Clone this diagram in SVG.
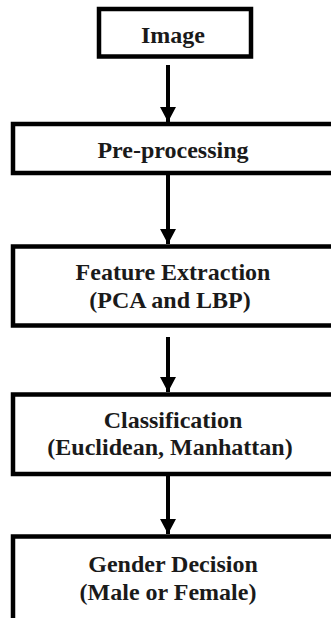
<svg xmlns="http://www.w3.org/2000/svg" width="331" height="618" viewBox="0 0 331 618">
<style>
.box{fill:#fff;stroke:#000;stroke-width:4.5}
.t{font-family:"Liberation Serif","Times New Roman",serif;font-weight:bold;font-size:24px;fill:#1a1a1a;text-anchor:middle}
.c{stroke:#000;stroke-width:4;fill:none}
</style>
<defs>
<marker id="ah" markerUnits="userSpaceOnUse" markerWidth="18" markerHeight="16" refX="15" refY="8" orient="auto">
<path d="M0,0 L15,8 L0,16 Z" fill="#000"/>
</marker>
</defs>
<rect width="331" height="618" fill="#fff"/>
<g id="n1"><rect class="box" x="99" y="9" width="152" height="47.5"/><text class="t" x="173" y="43">Image</text></g>
<g id="n2"><rect class="box" x="13" y="124" width="340" height="49"/><text class="t" x="173" y="158">Pre-processing</text></g>
<g id="n3"><rect class="box" x="13" y="246.5" width="340" height="79"/><text class="t" x="173" y="280">Feature Extraction</text><text class="t" x="170" y="308">(PCA and LBP)</text></g>
<g id="n4"><rect class="box" x="13" y="394.5" width="340" height="79.5"/><text class="t" x="173" y="428">Classification</text><text class="t" x="170" y="455">(Euclidean, Manhattan)</text></g>
<g id="n5"><rect class="box" x="13" y="536.5" width="340" height="100"/><text class="t" x="173" y="572">Gender Decision</text><text class="t" x="168" y="600">(Male or Female)</text></g>
<g id="connectors">
<line class="c" x1="168" y1="65" x2="168" y2="122" marker-end="url(#ah)"/>
<line class="c" x1="168" y1="175" x2="168" y2="244" marker-end="url(#ah)"/>
<line class="c" x1="168" y1="337" x2="168" y2="392" marker-end="url(#ah)"/>
<line class="c" x1="168" y1="476" x2="168" y2="534" marker-end="url(#ah)"/>
</g>
</svg>
